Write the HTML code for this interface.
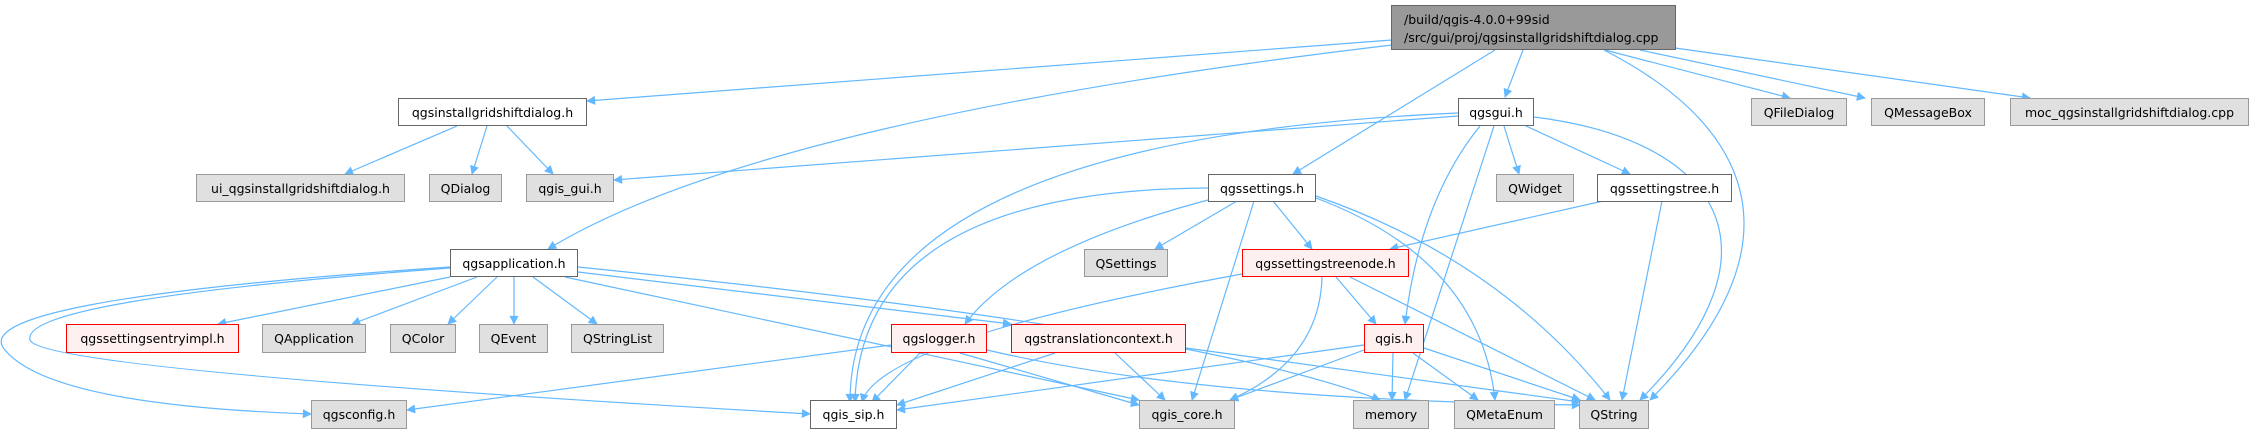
<!DOCTYPE html>
<html><head><meta charset="utf-8"><style>
body{margin:0;width:2255px;height:434px;background:#fff;position:relative;overflow:hidden;font-family:"DejaVu Sans","Liberation Sans",sans-serif;}
.n{position:absolute;box-sizing:border-box;border:1px solid #666;background:#fff;font-size:12.5px;color:#000;display:flex;align-items:center;justify-content:center;white-space:nowrap;}
.g{background:#e0e0e0;border-color:#999;}
.r{background:#fff0f0;border-color:#f00;}
svg{position:absolute;left:0;top:0;}
</style></head><body>
<svg width="2255" height="434" viewBox="0 0 2255 434">
<defs><marker id="a" viewBox="0 0 10 10" refX="9" refY="5" markerWidth="10" markerHeight="9" orient="auto" markerUnits="userSpaceOnUse"><path d="M0,0L10,5L0,10z" fill="#63b8ff"/></marker></defs>
<g fill="none" stroke="#63b8ff" stroke-width="1.2" marker-end="url(#a)">
<path d="M1392,40L587,101"/>
<path d="M1392,45Q760,120 548,249"/>
<path d="M1495,50L1293,174"/>
<path d="M1523,50L1505,97"/>
<path d="M1604,50C1760,130 1800,250 1650,400"/>
<path d="M1605,50L1790,98"/>
<path d="M1640,50L1865,98"/>
<path d="M1675,48L2030,98"/>
<path d="M457,126L345,174"/>
<path d="M487,126L472,174"/>
<path d="M507,126L553,174"/>
<path d="M1458,116L614,180"/>
<path d="M1458,113Q850,140 850,402"/>
<path d="M1480,126Q1420,200 1405,324"/>
<path d="M1494,126L1405,400"/>
<path d="M1504,126L1519,174"/>
<path d="M1526,126L1630,174"/>
<path d="M1534,117C1720,140 1790,250 1640,400"/>
<path d="M1603,201L1390,249"/>
<path d="M1662,201L1622,400"/>
<path d="M1208,188Q860,190 855,402"/>
<path d="M1208,200Q1020,250 965,324"/>
<path d="M1237,201L1155,249"/>
<path d="M1254,201L1192,400"/>
<path d="M1273,201L1312,249"/>
<path d="M1316,198Q1480,260 1495,400"/>
<path d="M1316,196Q1500,260 1610,400"/>
<path d="M1242,274Q880,340 862,402"/>
<path d="M1322,277Q1320,360 1230,400"/>
<path d="M1336,277L1376,324"/>
<path d="M1350,277L1595,400"/>
<path d="M1364,345L897,410"/>
<path d="M1364,350L1230,400"/>
<path d="M1393,353L1392,400"/>
<path d="M1413,353L1478,400"/>
<path d="M1424,348L1580,400"/>
<path d="M891,345L407,410"/>
<path d="M920,353L872,402"/>
<path d="M960,353L1139,405"/>
<path d="M987,350Q1200,400 1580,405"/>
<path d="M1055,353L897,405"/>
<path d="M1115,353L1165,400"/>
<path d="M1186,348L1580,402"/>
<path d="M450,277L218,324"/>
<path d="M477,277L352,324"/>
<path d="M497,277L448,324"/>
<path d="M514,277L514,324"/>
<path d="M533,277L597,324"/>
<path d="M450,267Q-40,300 5,350Q50,405 311,414"/>
<path d="M450,268Q20,300 30,340Q40,370 810,414"/>
<path d="M578,272L1011,324"/>
<path d="M578,267Q1200,330 1380,400"/>
<path d="M565,277L1139,400"/>
</g></svg>
<div class="n" style="left:1391px;top:5px;width:285px;height:45px;background:#999;display:block;padding:5px 0 0 12px;line-height:18px;">/build/qgis-4.0.0+99sid<br>/src/gui/proj/qgsinstallgridshiftdialog.cpp</div>
<div class="n" style="left:398px;top:98px;width:189px;height:28px;">qgsinstallgridshiftdialog.h</div>
<div class="n" style="left:1458px;top:98px;width:76px;height:28px;">qgsgui.h</div>
<div class="n g" style="left:1751px;top:98px;width:96px;height:28px;">QFileDialog</div>
<div class="n g" style="left:1871px;top:98px;width:114px;height:28px;">QMessageBox</div>
<div class="n g" style="left:2010px;top:98px;width:239px;height:28px;">moc_qgsinstallgridshiftdialog.cpp</div>
<div class="n g" style="left:196px;top:174px;width:209px;height:28px;">ui_qgsinstallgridshiftdialog.h</div>
<div class="n g" style="left:429px;top:174px;width:73px;height:28px;">QDialog</div>
<div class="n g" style="left:526px;top:174px;width:88px;height:28px;">qgis_gui.h</div>
<div class="n" style="left:1208px;top:174px;width:108px;height:28px;">qgssettings.h</div>
<div class="n g" style="left:1496px;top:174px;width:78px;height:28px;">QWidget</div>
<div class="n" style="left:1597px;top:174px;width:135px;height:28px;">qgssettingstree.h</div>
<div class="n" style="left:450px;top:249px;width:128px;height:28px;">qgsapplication.h</div>
<div class="n g" style="left:1084px;top:249px;width:84px;height:28px;">QSettings</div>
<div class="n r" style="left:1242px;top:249px;width:167px;height:28px;">qgssettingstreenode.h</div>
<div class="n r" style="left:66px;top:324px;width:173px;height:29px;">qgssettingsentryimpl.h</div>
<div class="n g" style="left:262px;top:324px;width:104px;height:29px;">QApplication</div>
<div class="n g" style="left:390px;top:324px;width:66px;height:29px;">QColor</div>
<div class="n g" style="left:479px;top:324px;width:69px;height:29px;">QEvent</div>
<div class="n g" style="left:571px;top:324px;width:93px;height:29px;">QStringList</div>
<div class="n r" style="left:891px;top:324px;width:96px;height:29px;">qgslogger.h</div>
<div class="n r" style="left:1011px;top:324px;width:175px;height:29px;">qgstranslationcontext.h</div>
<div class="n r" style="left:1364px;top:324px;width:60px;height:29px;">qgis.h</div>
<div class="n g" style="left:311px;top:400px;width:96px;height:29px;">qgsconfig.h</div>
<div class="n" style="left:810px;top:400px;width:87px;height:29px;">qgis_sip.h</div>
<div class="n g" style="left:1139px;top:400px;width:96px;height:29px;">qgis_core.h</div>
<div class="n g" style="left:1353px;top:400px;width:76px;height:29px;">memory</div>
<div class="n g" style="left:1454px;top:400px;width:101px;height:29px;">QMetaEnum</div>
<div class="n g" style="left:1579px;top:400px;width:70px;height:29px;">QString</div>
</body></html>
